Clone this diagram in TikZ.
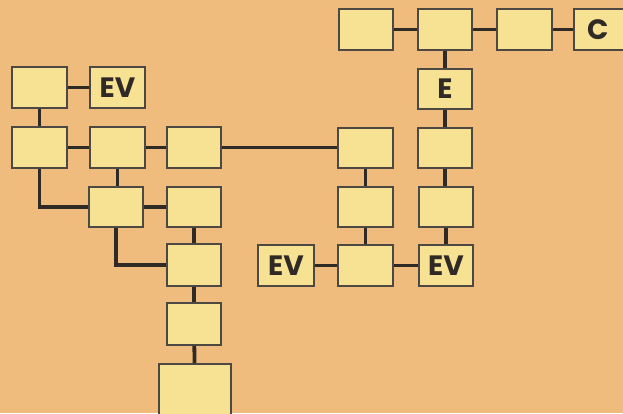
\documentclass[tikz,border=0pt]{standalone}
\usepackage{fontspec}
\newfontfamily\labfont{Poppins}
\definecolor{bgcol}{RGB}{239,188,126}
\definecolor{boxcol}{RGB}{246,226,146}
\definecolor{linecol}{RGB}{48,42,38}
\definecolor{bordcol}{RGB}{78,72,66}
\tikzset{
  boxnode/.style={draw=bordcol, line width=1.6pt, fill=boxcol, minimum width=55pt, minimum height=41pt, inner sep=0pt,
    font=\labfont\bfseries\fontsize{28}{28}\selectfont, text=linecol},
  conn/.style={draw=linecol, line width=3.8pt}
}
\begin{document}
\begin{tikzpicture}[x=1pt,y=-1pt]
\useasboundingbox (0,0) rectangle (623,413);
\clip (0,0) rectangle (623,413);
\fill[bgcol] (0,0) rectangle (623,413);
\coordinate (pa1) at (39.5,87.5);
\coordinate (pev1) at (117.5,87.5);
\coordinate (pb1) at (39.5,147.5);
\coordinate (pb2) at (117.5,147.5);
\coordinate (pb3) at (194,147.5);
\coordinate (pc1) at (116,207);
\coordinate (pc2) at (194,207);
\coordinate (pd2) at (194,265);
\coordinate (pe2) at (194,324);
\coordinate (pf2) at (195,394);
\coordinate (pt1) at (366,29.5);
\coordinate (pt2) at (445,29.5);
\coordinate (pt3) at (524.5,29.5);
\coordinate (ptc) at (601.5,29.5);
\coordinate (pE) at (445,89);
\coordinate (pr1) at (445,148);
\coordinate (pr2) at (446,207);
\coordinate (pevr) at (446,265.5);
\coordinate (pm1) at (365.5,148);
\coordinate (pm2) at (365.5,207);
\coordinate (pm3) at (365.5,265.5);
\coordinate (pevl) at (286,265.5);

\node[boxnode] (a1) at (pa1) {};
\node[boxnode] (ev1) at (pev1) {EV};
\node[boxnode] (b1) at (pb1) {};
\node[boxnode] (b2) at (pb2) {};
\node[boxnode, minimum width=54pt] (b3) at (pb3) {};
\node[boxnode, minimum width=54pt, minimum height=40pt] (c1) at (pc1) {};
\node[boxnode, minimum width=54pt, minimum height=40pt] (c2) at (pc2) {};
\node[boxnode, minimum width=54pt, minimum height=42pt] (d2) at (pd2) {};
\node[boxnode, minimum width=54pt, minimum height=42pt] (e2) at (pe2) {};
\node[boxnode, minimum width=72pt, minimum height=60pt] (f2) at (pf2) {};
\node[boxnode, minimum width=54pt] (t1) at (pt1) {};
\node[boxnode, minimum width=54pt] (t2) at (pt2) {};
\node[boxnode] (t3) at (pt3) {};
\node[boxnode, text width=55pt, align=left] (tc) at (ptc) {\hspace{13pt}C};
\node[boxnode, minimum width=54pt, minimum height=40pt] (E) at (pE) {E};
\node[boxnode, minimum width=54pt, minimum height=40pt] (r1) at (pr1) {};
\node[boxnode, minimum width=54pt, minimum height=40pt] (r2) at (pr2) {};
\node[boxnode, minimum width=54pt] (evr) at (pevr) {EV};
\node[boxnode, minimum height=40pt] (m1) at (pm1) {};
\node[boxnode, minimum height=40pt] (m2) at (pm2) {};
\node[boxnode] (m3) at (pm3) {};
\node[boxnode, minimum width=56pt] (evl) at (pevl) {EV};

\draw[conn] (a1) -- (ev1);
\draw[conn] (a1) -- (b1);
\draw[conn] (b1) -- (b2);
\draw[conn] (b2) -- (b3);
\draw[conn] (b3.east) -- (b3.east -| m1.west);
\draw[conn] (b2) -- (b2 |- c1.north);
\draw[conn] (b1.south) |- (c1.west);
\draw[conn] (c1) -- (c2);
\draw[conn] (c2) -- (d2);
\draw[conn] (c1.south) |- (d2.west);
\draw[conn] (d2) -- (e2);
\draw[conn] (e2) -- (f2);
\draw[conn] (t1) -- (t2);
\draw[conn] (t2) -- (t3);
\draw[conn] (t3) -- (tc);
\draw[conn] (t2) -- (t2 |- E.north);
\draw[conn] (E) -- (E |- r1.north);
\draw[conn] (r1) -- (r1 |- r2.north);
\draw[conn] (r2) -- (evr);
\draw[conn] (m1) -- (m2);
\draw[conn] (m2) -- (m3);
\draw[conn] (evl) -- (m3);
\draw[conn] (m3) -- (evr);
\end{tikzpicture}
\end{document}
